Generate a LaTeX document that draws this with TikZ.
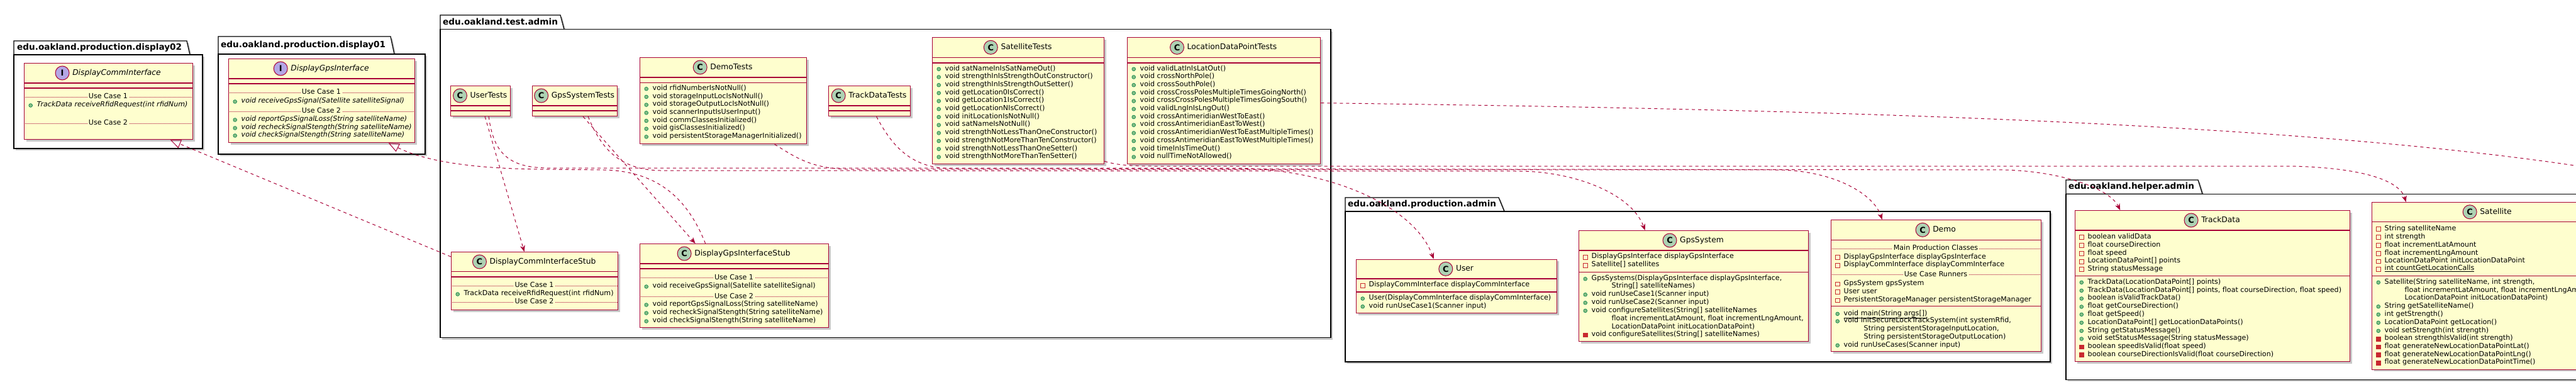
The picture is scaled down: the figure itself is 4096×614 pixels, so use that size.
\documentclass[tikz,border=0pt]{standalone}
\usepackage{fontspec}
\setmainfont{DejaVu Sans}
\usetikzlibrary{arrows.meta,shadows}

\definecolor{umlred}{HTML}{A80036}
\definecolor{umlyellow}{HTML}{FEFECE}
\definecolor{spotgreen}{HTML}{ADD1B2}
\definecolor{spotviolet}{HTML}{B4A7E5}
\definecolor{pubgreen}{HTML}{84BE84}
\definecolor{pubedge}{HTML}{038048}
\definecolor{privred}{HTML}{C82930}

\newcommand{\memfont}{\fontsize{11.1}{13}\selectfont}
\newcommand{\namefont}{\fontsize{12.3}{14}\selectfont}
\newcommand{\pkgfont}{\fontsize{13.6}{15}\selectfont\bfseries}
\newcommand{\spotfont}{\fontsize{13}{13}\selectfont\bfseries}

\tikzset{
  pkg/.style={draw=black, line width=1.3pt, fill=white,
    drop shadow={shadow xshift=3pt, shadow yshift=-3pt, fill=black!30, opacity=0.7}},
  pkgname/.style={anchor=west, inner sep=0pt, font=\pkgfont, text height=10pt, text depth=3pt},
  classbox/.style={draw=umlred, line width=1.3pt, fill=umlyellow, anchor=north west, inner sep=0pt,
    drop shadow={shadow xshift=3pt, shadow yshift=-3pt, fill=black!30, opacity=0.7}},
  divider/.style={draw=umlred, line width=1.3pt},
  classname/.style={inner sep=0pt, font=\namefont, text height=9pt, text depth=2.5pt},
  spot/.style={circle, draw=umlred, line width=1pt, minimum size=22pt, inner sep=0pt, font=\spotfont},
  member/.style={anchor=west, inner sep=0pt, font=\memfont, text height=8pt, text depth=2.5pt},
  sepline/.style={draw=umlred, line width=0.6pt, dash pattern=on 1pt off 1pt},
  septext/.style={fill=umlyellow, inner xsep=2pt, inner ysep=0pt, font=\memfont, text height=8pt, text depth=2.5pt},
  pubdot/.style={fill=pubgreen, draw=pubedge, line width=0.6pt},
  privbox/.style={draw=privred, line width=0.8pt},
  dep/.style={draw=umlred, line width=1pt, dash pattern=on 5pt off 5pt,
    -{Stealth[length=10pt, width=8pt, inset=3pt]}},
  real/.style={draw=umlred, line width=1pt, dash pattern=on 5pt off 5pt,
    -{Triangle[open, length=17pt, width=14pt]}}
}

\newcounter{umlrow}
% class title: left, right, y, spot colour, letter, name
\newcommand{\headrow}[6]{\stepcounter{umlrow}%
  \node[classname] (r\arabic{umlrow}) at ({(#1+#2)/2+13.5},#3) {#6};
  \node[spot, fill=#4] (s\arabic{umlrow}) at ([xshift=-16pt]r\arabic{umlrow}.west) {#5};}
% titled separator: left, right, y, text
\newcommand{\seprow}[4]{\stepcounter{umlrow}%
  \draw[sepline] (#1,#3) -- (#2,#3);
  \node[septext] (r\arabic{umlrow}) at ({(#1+#2)/2},#3) {#4};}
% public member: left, y, text
\newcommand{\pubrow}[3]{\stepcounter{umlrow}%
  \filldraw[pubdot] (#1+10.7,#2+0.5) circle (2.9pt);
  \node[member] (r\arabic{umlrow}) at (#1+20.5,#2) {#3};}
% private field
\newcommand{\privrow}[3]{\stepcounter{umlrow}%
  \draw[privbox] (#1+7.5,#2-2.5) rectangle (#1+14,#2+4);
  \node[member] (r\arabic{umlrow}) at (#1+20.5,#2) {#3};}
% private method
\newcommand{\privmrow}[3]{\stepcounter{umlrow}%
  \filldraw[privbox, fill=privred] (#1+7.5,#2-2.5) rectangle (#1+14,#2+4);
  \node[member] (r\arabic{umlrow}) at (#1+20.5,#2) {#3};}
% continued line of a long signature
\newcommand{\controw}[3]{\stepcounter{umlrow}%
  \node[member] (r\arabic{umlrow}) at (#1+52.5,#2) {#3};}

\begin{document}
\begin{tikzpicture}[x=1pt, y=-1pt]
    \useasboundingbox (0,0) rectangle (4096,614);
    \clip (0,0) rectangle (4096,614);

    % Draw the packages
    \draw[pkg] (22,65) -- (297,65) -- (302,87) -- (22,87) -- cycle;
    \draw[pkg] (22,87) rectangle (322,236);
    \node[pkgname] (display02) at (27,76) {edu.oakland.production.display02};

    \draw[pkg] (347,58) -- (621,58) -- (627,86) -- (347,86) -- cycle;
    \draw[pkg] (347,86) rectangle (676,245);
    \node[pkgname] (display01) at (351,72) {edu.oakland.production.display01};

    \draw[pkg] (700,24) -- (891,24) -- (897,46.7) -- (700,46.7) -- cycle;
    \draw[pkg] (700,46.7) rectangle (2116,536.7);
    \node[pkgname] (testadmin) at (704,35.5) {edu.oakland.test.admin};

    \draw[pkg] (2139,314) -- (2383,314) -- (2392,336) -- (2139,336) -- cycle;
    \draw[pkg] (2139,336) rectangle (3260,575);
    \node[pkgname] (prodadmin) at (2143,325) {edu.oakland.production.admin};

    \draw[pkg] (3285,286) -- (3495,286) -- (3502,308.3) -- (3285,308.3) -- cycle;
    \draw[pkg] (3285,308.3) rectangle (4155,603.3);
    \node[pkgname] (helperadmin) at (3289,297) {edu.oakland.helper.admin};

    % DisplayCommInterface
    \node[classbox, minimum width=268pt, minimum height=121pt] (dcomm) at (38,100) {};
    \draw[divider] (38,132) -- (306,132);
    \draw[divider] (38,140) -- (306,140);
    \headrow{38}{306}{116}{spotviolet}{I}{\itshape DisplayCommInterface}
    \seprow{38}{306}{154}{Use Case 1}
    \pubrow{38}{167}{\itshape TrackData receiveRfidRequest(int rfidNum)}
    \seprow{38}{306}{196}{Use Case 2}

    % DisplayGpsInterface
    \node[classbox, minimum width=296pt, minimum height=133pt] (dgps) at (363,93) {};
    \draw[divider] (363,125) -- (659,125);
    \draw[divider] (363,133) -- (659,133);
    \headrow{363}{659}{109}{spotviolet}{I}{\itshape DisplayGpsInterface}
    \seprow{363}{659}{147}{Use Case 1}
    \pubrow{363}{161}{\itshape void receiveGpsSignal(Satellite satelliteSignal)}
    \seprow{363}{659}{177}{Use Case 2}
    \pubrow{363}{190}{\itshape void reportGpsSignalLoss(String satelliteName)}
    \pubrow{363}{203}{\itshape void recheckSignalStength(String satelliteName)}
    \pubrow{363}{215}{\itshape void checkSignalStength(String satelliteName)}

    % UserTests
    \node[classbox, minimum width=95pt, minimum height=48pt] (usertests) at (716,136) {};
    \draw[divider] (716,168) -- (811,168);
    \draw[divider] (716,176) -- (811,176);
    \headrow{716}{811}{152}{spotgreen}{C}{UserTests}

    % GpsSystemTests
    \node[classbox, minimum width=135pt, minimum height=48pt] (gpstests) at (846,136) {};
    \draw[divider] (846,168) -- (981,168);
    \draw[divider] (846,176) -- (981,176);
    \headrow{846}{981}{152}{spotgreen}{C}{GpsSystemTests}

    % DemoTests
    \node[classbox, minimum width=265pt, minimum height=137pt] (demotests) at (1017,91) {};
    \draw[divider] (1017,123) -- (1282,123);
    \draw[divider] (1017,131.7) -- (1282,131.7);
    \headrow{1017}{1282}{107}{spotgreen}{C}{DemoTests}
    \pubrow{1017}{140.7}{void rfidNumberIsNotNull()}
    \pubrow{1017}{153.4}{void storageInputLocIsNotNull()}
    \pubrow{1017}{166.1}{void storageOutputLocIsNotNull()}
    \pubrow{1017}{178.8}{void scannerInputIsUserInput()}
    \pubrow{1017}{191.5}{void commClassesInitialized()}
    \pubrow{1017}{204.2}{void gisClassesInitialized()}
    \pubrow{1017}{216.9}{void persistentStorageManagerInitialized()}

    % TrackDataTests
    \node[classbox, minimum width=130pt, minimum height=48pt] (tracktests) at (1317,136) {};
    \draw[divider] (1317,168) -- (1447,168);
    \draw[divider] (1317,176) -- (1447,176);
    \headrow{1317}{1447}{152}{spotgreen}{C}{TrackDataTests}

    % SatelliteTests
    \node[classbox, minimum width=273pt, minimum height=201pt] (sattests) at (1482,59) {};
    \draw[divider] (1482,91.7) -- (1755,91.7);
    \draw[divider] (1482,100) -- (1755,100);
    \headrow{1482}{1755}{75.3}{spotgreen}{C}{SatelliteTests}
    \pubrow{1482}{109.3}{void satNameInIsSatNameOut()}
    \pubrow{1482}{122.0}{void strengthInIsStrengthOutConstructor()}
    \pubrow{1482}{134.7}{void strengthInIsStrengthOutSetter()}
    \pubrow{1482}{147.4}{void getLocation0IsCorrect()}
    \pubrow{1482}{160.1}{void getLocation1IsCorrect()}
    \pubrow{1482}{172.8}{void getLocationNIsCorrect()}
    \pubrow{1482}{185.5}{void initLocationIsNotNull()}
    \pubrow{1482}{198.2}{void satNameIsNotNull()}
    \pubrow{1482}{210.9}{void strengthNotLessThanOneConstructor()}
    \pubrow{1482}{223.6}{void strengthNotMoreThanTenConstructor()}
    \pubrow{1482}{236.3}{void strengthNotLessThanOneSetter()}
    \pubrow{1482}{249.0}{void strengthNotMoreThanTenSetter()}

    % LocationDataPointTests
    \node[classbox, minimum width=307pt, minimum height=201pt] (loctests) at (1792,59) {};
    \draw[divider] (1792,91.7) -- (2099,91.7);
    \draw[divider] (1792,100) -- (2099,100);
    \headrow{1792}{2099}{75.3}{spotgreen}{C}{LocationDataPointTests}
    \pubrow{1792}{109.3}{void validLatInIsLatOut()}
    \pubrow{1792}{122.0}{void crossNorthPole()}
    \pubrow{1792}{134.7}{void crossSouthPole()}
    \pubrow{1792}{147.4}{void crossCrossPolesMultipleTimesGoingNorth()}
    \pubrow{1792}{160.1}{void crossCrossPolesMultipleTimesGoingSouth()}
    \pubrow{1792}{172.8}{void validLngInIsLngOut()}
    \pubrow{1792}{185.5}{void crossAntimeridianWestToEast()}
    \pubrow{1792}{198.2}{void crossAntimeridianEastToWest()}
    \pubrow{1792}{210.9}{void crossAntimeridianWestToEastMultipleTimes()}
    \pubrow{1792}{223.6}{void crossAntimeridianEastToWestMultipleTimes()}
    \pubrow{1792}{236.3}{void timeInIsTimeOut()}
    \pubrow{1792}{249.0}{void nullTimeNotAllowed()}

    % DisplayCommInterfaceStub
    \node[classbox, minimum width=265pt, minimum height=92pt] (dcommstub) at (717,400) {};
    \draw[divider] (717,431.7) -- (982,431.7);
    \draw[divider] (717,440) -- (982,440);
    \headrow{717}{982}{416}{spotgreen}{C}{DisplayCommInterfaceStub}
    \seprow{717}{982}{454}{Use Case 1}
    \pubrow{717}{467}{TrackData receiveRfidRequest(int rfidNum)}
    \seprow{717}{982}{480}{Use Case 2}

    % DisplayGpsInterfaceStub
    \node[classbox, minimum width=300pt, minimum height=133pt] (dgpsstub) at (1017,387) {};
    \draw[divider] (1017,419) -- (1317,419);
    \draw[divider] (1017,427) -- (1317,427);
    \headrow{1017}{1317}{403}{spotgreen}{C}{DisplayGpsInterfaceStub}
    \seprow{1017}{1317}{441.7}{Use Case 1}
    \pubrow{1017}{455}{void receiveGpsSignal(Satellite satelliteSignal)}
    \seprow{1017}{1317}{471.7}{Use Case 2}
    \pubrow{1017}{484}{void reportGpsSignalLoss(String satelliteName)}
    \pubrow{1017}{497}{void recheckSignalStength(String satelliteName)}
    \pubrow{1017}{510}{void checkSignalStength(String satelliteName)}

    % User
    \node[classbox, minimum width=319pt, minimum height=85.3pt] (user) at (2156,411.7) {};
    \draw[divider] (2156,443) -- (2475,443);
    \draw[divider] (2156,464) -- (2475,464);
    \headrow{2156}{2475}{427.3}{spotgreen}{C}{User}
    \privrow{2156}{453}{DisplayCommInterface displayCommInterface}
    \pubrow{2156}{474}{User(DisplayCommInterface displayCommInterface)}
    \pubrow{2156}{486.7}{void runUseCase1(Scanner input)}

    % GpsSystem
    \node[classbox, minimum width=365pt, minimum height=176pt] (gpssys) at (2510,366) {};
    \draw[divider] (2510,398) -- (2875,398);
    \draw[divider] (2510,432.7) -- (2875,432.7);
    \headrow{2510}{2875}{382}{spotgreen}{C}{GpsSystem}
    \privrow{2510}{408}{DisplayGpsInterface displayGpsInterface}
    \privrow{2510}{421}{Satellite[] satellites}
    \pubrow{2510}{442.7}{GpsSystems(DisplayGpsInterface displayGpsInterface,}
    \controw{2510}{455}{String[] satelliteNames)}
    \pubrow{2510}{467.7}{void runUseCase1(Scanner input)}
    \pubrow{2510}{480.7}{void runUseCase2(Scanner input)}
    \pubrow{2510}{493.3}{void configureSatellites(String[] satelliteNames}
    \controw{2510}{506.7}{float incrementLatAmount, float incrementLngAmount,}
    \controw{2510}{519.3}{LocationDataPoint initLocationDataPoint)}
    \privmrow{2510}{531.7}{void configureSatellites(String[] satelliteNames)}

    % Demo
    \node[classbox, minimum width=334pt, minimum height=209pt] (demo) at (2911,349) {};
    \draw[divider] (2911,381.7) -- (3245,381.7);
    \draw[divider] (2911,486.7) -- (3245,486.7);
    \headrow{2911}{3245}{365.3}{spotgreen}{C}{Demo}
    \seprow{2911}{3245}{395}{Main Production Classes}
    \privrow{2911}{408.3}{DisplayGpsInterface displayGpsInterface}
    \privrow{2911}{421}{DisplayCommInterface displayCommInterface}
    \seprow{2911}{3245}{436.7}{Use Case Runners}
    \privrow{2911}{450.7}{GpsSystem gpsSystem}
    \privrow{2911}{463.3}{User user}
    \privrow{2911}{476.7}{PersistentStorageManager persistentStorageManager}
    \pubrow{2911}{498.3}{\underline{void main(String args[])}}
    \pubrow{2911}{510}{void initSecureLockTrackSystem(int systemRfid,}
    \controw{2911}{522.7}{String persistentStorageInputLocation,}
    \controw{2911}{535.3}{String persistentStorageOutputLocation)}
    \pubrow{2911}{548.3}{void runUseCases(Scanner input)}

    % TrackData
    \node[classbox, minimum width=437pt, minimum height=240pt] (trackdata) at (3299,334) {};
    \draw[divider] (3299,366) -- (3736,366);
    \draw[divider] (3299,438.3) -- (3736,438.3);
    \headrow{3299}{3736}{350}{spotgreen}{C}{TrackData}
    \privrow{3299}{376.3}{boolean validData}
    \privrow{3299}{389.3}{float courseDirection}
    \privrow{3299}{402.3}{float speed}
    \privrow{3299}{415}{LocationDataPoint[] points}
    \privrow{3299}{427.3}{String statusMessage}
    \pubrow{3299}{448.3}{TrackData(LocationDataPoint[] points)}
    \pubrow{3299}{461.3}{TrackData(LocationDataPoint[] points, float courseDirection, float speed)}
    \pubrow{3299}{474}{boolean isValidTrackData()}
    \pubrow{3299}{487}{float getCourseDirection()}
    \pubrow{3299}{499.3}{float getSpeed()}
    \pubrow{3299}{512.3}{LocationDataPoint[] getLocationDataPoints()}
    \pubrow{3299}{525.3}{String getStatusMessage()}
    \pubrow{3299}{538}{void setStatusMessage(String statusMessage)}
    \privmrow{3299}{550.7}{boolean speedIsValid(float speed)}
    \privmrow{3299}{563.3}{boolean courseDirectionIsValid(float courseDirection)}

    % Satellite
    \node[classbox, minimum width=368pt, minimum height=265.7pt] (satellite) at (3771,321) {};
    \draw[divider] (3771,352.7) -- (4139,352.7);
    \draw[divider] (3771,438.3) -- (4139,438.3);
    \headrow{3771}{4139}{336.8}{spotgreen}{C}{Satellite}
    \privrow{3771}{363.3}{String satelliteName}
    \privrow{3771}{376.3}{int strength}
    \privrow{3771}{389.3}{float incrementLatAmount}
    \privrow{3771}{402.3}{float incrementLngAmount}
    \privrow{3771}{414.7}{LocationDataPoint initLocationDataPoint}
    \privrow{3771}{427}{\underline{int countGetLocationCalls}}
    \pubrow{3771}{448.3}{Satellite(String satelliteName, int strength,}
    \controw{3771}{461.3}{float incrementLatAmount, float incrementLngAmount,}
    \controw{3771}{474}{LocationDataPoint initLocationDataPoint)}
    \pubrow{3771}{486.7}{String getSatelliteName()}
    \pubrow{3771}{499.3}{int getStrength()}
    \pubrow{3771}{512.3}{LocationDataPoint getLocation()}
    \pubrow{3771}{525.3}{void setStrength(int strength)}
    \privmrow{3771}{538}{boolean strengthIsValid(int strength)}
    \privmrow{3771}{550.7}{float generateNewLocationDataPointLat()}
    \privmrow{3771}{563.3}{float generateNewLocationDataPointLng()}
    \privmrow{3771}{576}{float generateNewLocationDataPointTime()}

    % Draw the realizations
    \draw[real] ([yshift=-8pt]dcommstub.north west) -- ([xshift=98pt]dcomm.south);
    \draw[real] ([xshift=-46pt]dgpsstub.north) .. controls (1095,320) and (1050,272) .. (960,270)
        -- (860,269) .. controls (760,268) and (680,258) .. ([xshift=106pt]dgps.south);

    % Draw the dependencies of the tests
    \draw[dep] ([xshift=7pt]usertests.south) -- ([xshift=-16.5pt]dcommstub.north);
    \draw[dep] ([xshift=13pt]usertests.south) .. controls (785,245) and (810,266) .. (870,267)
        -- (1960,267) .. controls (2120,268) and (2250,330) .. ([xshift=-36.5pt]user.north);
    \draw[dep] ([xshift=13pt]gpstests.south) -- ([xshift=-62pt]dgpsstub.north);
    \draw[dep] ([xshift=21pt]gpstests.south) .. controls (955,235) and (985,270) .. (1050,271)
        -- (2420,272) .. controls (2510,274) and (2595,310) .. ([xshift=-77.5pt]gpssys.north);
    \draw[dep] ([xshift=81.5pt]demotests.south) .. controls (1265,250) and (1290,268) .. (1350,269)
        -- (2830,270) .. controls (2920,272) and (2980,310) .. ([xshift=-86pt]demo.north);
    \draw[dep] ([xshift=11pt]tracktests.south) .. controls (1420,235) and (1450,266) .. (1510,268)
        -- (3190,270) .. controls (3280,273) and (3355,300) .. ([xshift=-147pt]trackdata.north);
    \draw[dep] ([yshift=5pt]sattests.south east) .. controls (1775,262) and (1795,264) .. (1840,264)
        -- (3640,264) .. controls (3750,266) and (3815,285) .. ([xshift=-130pt]satellite.north);
    \coordinate (locdp) at (4250,290);
    \draw[dep] ([yshift=-3.5pt]loctests.east) .. controls (3000,175) and (3800,200) .. (locdp);
\end{tikzpicture}
\end{document}
